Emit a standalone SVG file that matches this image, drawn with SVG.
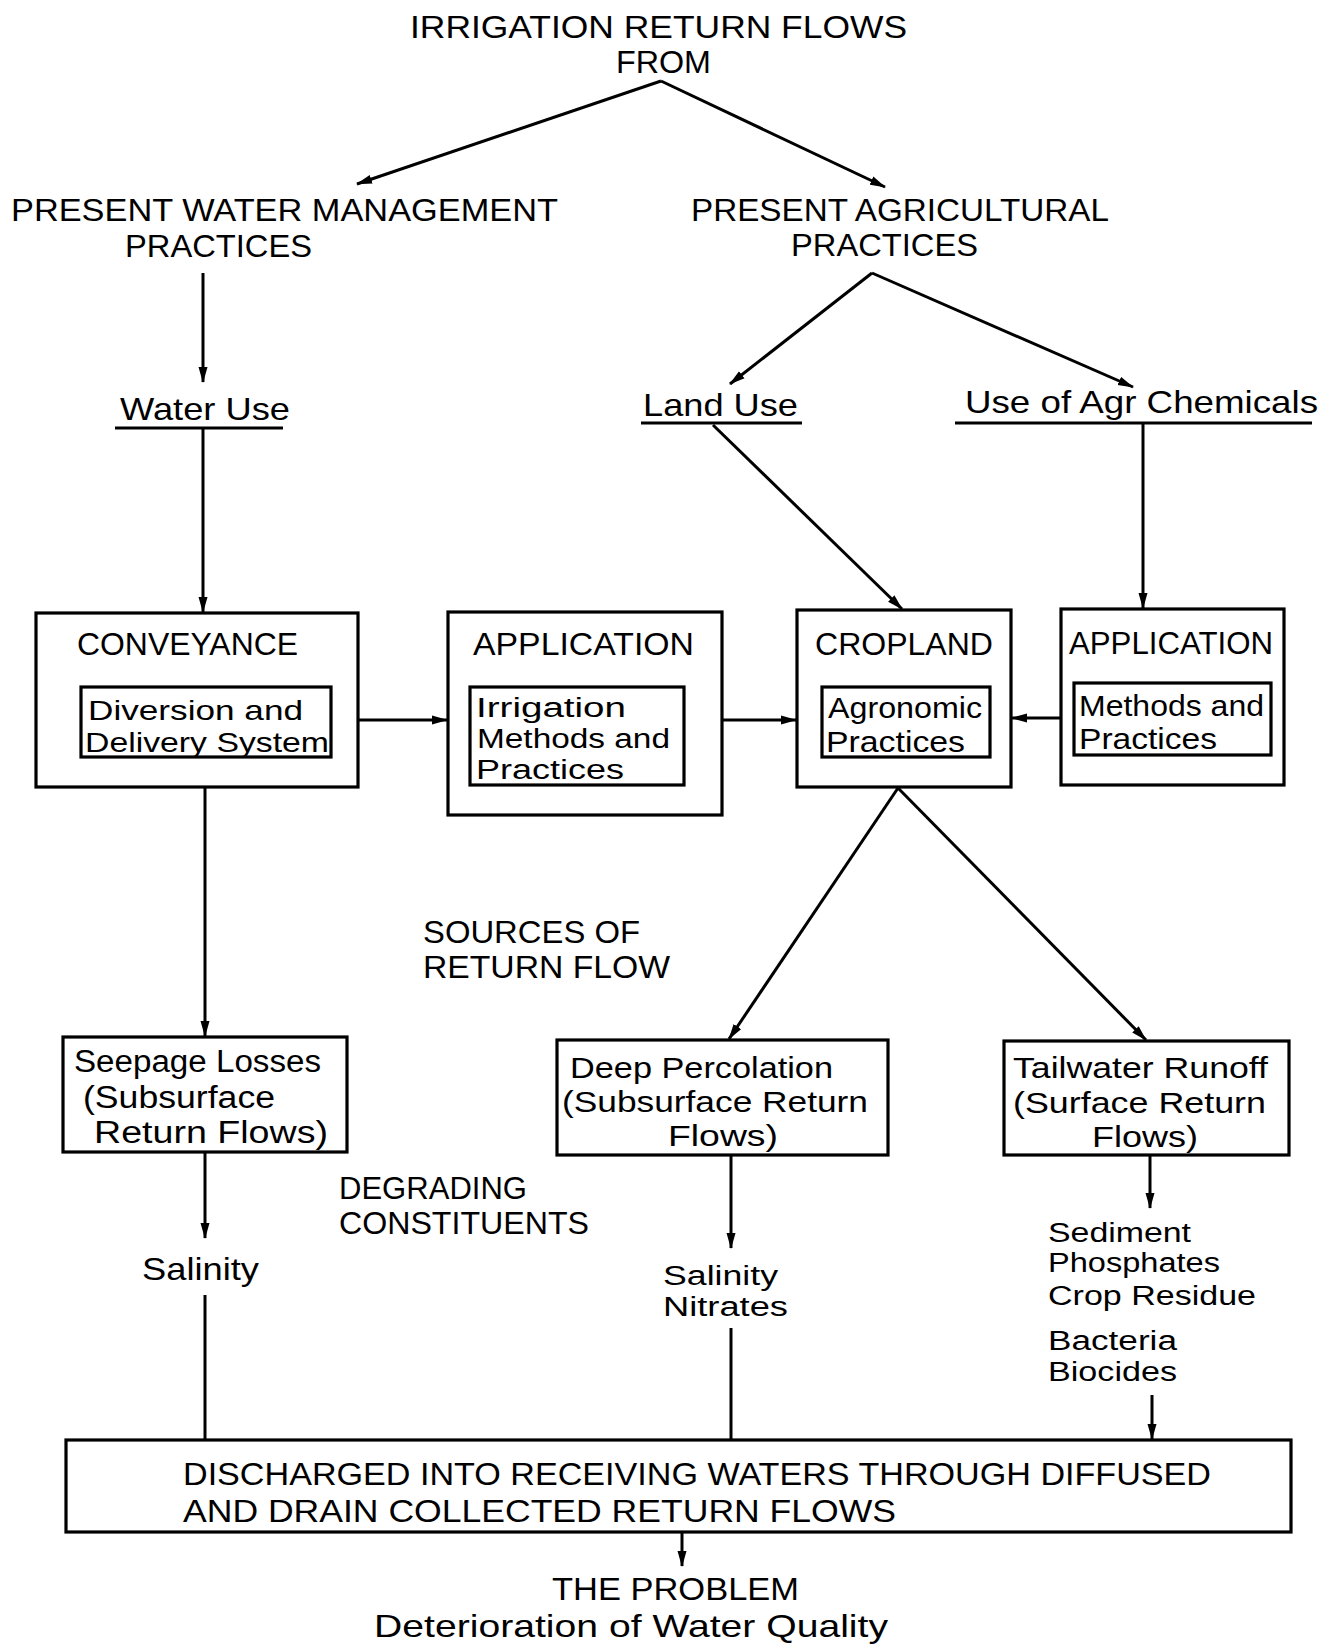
<svg xmlns="http://www.w3.org/2000/svg" width="1332" height="1645" viewBox="0 0 1332 1645">
<defs>
<marker id="ah" markerUnits="userSpaceOnUse" markerWidth="16" markerHeight="10" viewBox="0 0 16 10" refX="15" refY="5" orient="auto">
<path d="M0,0.5 L16,5 L0,9.5 z" fill="#000"/>
</marker>
<style>
text{font-family:"Liberation Sans",Arial,sans-serif;fill:#000;font-size:31px;}
.h{font-size:32px;}
.h2{font-size:31px;}
.f32{font-size:32px;}
.f30{font-size:30px;}
.f29{font-size:29px;}
.f28{font-size:28px;}
.f27{font-size:27px;}
.box{fill:none;stroke:#000;stroke-width:3.2;}
.ul{stroke:#000;stroke-width:2.8;}
#connectors line{stroke:#000;stroke-width:3;fill:none;}
.a{marker-end:url(#ah);}
</style>
</defs>
<rect width="1332" height="1645" fill="#fff"/>

<g id="title">
<text x="410" y="38" textLength="497" lengthAdjust="spacingAndGlyphs">IRRIGATION RETURN FLOWS</text>
<text x="616" y="73" textLength="95" lengthAdjust="spacingAndGlyphs">FROM</text>
</g>

<g id="water-management">
<text class="h" x="11" y="221" textLength="547" lengthAdjust="spacingAndGlyphs">PRESENT WATER MANAGEMENT</text>
<text class="h" x="125" y="257" textLength="187" lengthAdjust="spacingAndGlyphs">PRACTICES</text>
</g>

<g id="agricultural">
<text class="h2" x="691" y="221" textLength="418" lengthAdjust="spacingAndGlyphs">PRESENT AGRICULTURAL</text>
<text class="h2" x="791" y="256" textLength="187" lengthAdjust="spacingAndGlyphs">PRACTICES</text>
</g>

<g id="water-use">
<text class="f32" x="120" y="420" textLength="170" lengthAdjust="spacingAndGlyphs">Water Use</text>
<line class="ul" x1="115" y1="428" x2="283" y2="428"/>
</g>

<g id="land-use">
<text class="f32" x="643" y="416" textLength="155" lengthAdjust="spacingAndGlyphs">Land Use</text>
<line class="ul" x1="641" y1="423" x2="802" y2="423"/>
</g>

<g id="agr-chemicals">
<text class="f32" x="965" y="413" textLength="353" lengthAdjust="spacingAndGlyphs">Use of Agr Chemicals</text>
<line class="ul" x1="955" y1="423" x2="1312" y2="423"/>
</g>

<g id="conveyance">
<rect class="box" x="36" y="613" width="322" height="174"/>
<text x="77" y="655" textLength="221" lengthAdjust="spacingAndGlyphs">CONVEYANCE</text>
<rect class="box" x="81" y="687" width="250" height="70"/>
<text class="f28" x="88" y="720" textLength="215" lengthAdjust="spacingAndGlyphs">Diversion and</text>
<text class="f28" x="85" y="752" textLength="244" lengthAdjust="spacingAndGlyphs">Delivery System</text>
</g>

<g id="application-irrigation">
<rect class="box" x="448" y="612" width="274" height="203"/>
<text x="473" y="655" textLength="221" lengthAdjust="spacingAndGlyphs">APPLICATION</text>
<rect class="box" x="470" y="687" width="214" height="98"/>
<text class="f27" x="476" y="717" textLength="150" lengthAdjust="spacingAndGlyphs">Irrigation</text>
<text class="f27" x="477" y="748" textLength="193" lengthAdjust="spacingAndGlyphs">Methods and</text>
<text class="f27" x="476" y="779" textLength="148" lengthAdjust="spacingAndGlyphs">Practices</text>
</g>

<g id="cropland">
<rect class="box" x="797" y="610" width="214" height="177"/>
<text x="815" y="655" textLength="178" lengthAdjust="spacingAndGlyphs">CROPLAND</text>
<rect class="box" x="822" y="687" width="168" height="70"/>
<text class="f30" x="828" y="718" textLength="154" lengthAdjust="spacingAndGlyphs">Agronomic</text>
<text class="f30" x="826" y="752" textLength="139" lengthAdjust="spacingAndGlyphs">Practices</text>
</g>

<g id="application-chemicals">
<rect class="box" x="1061" y="609" width="223" height="176"/>
<text x="1069" y="654" textLength="204" lengthAdjust="spacingAndGlyphs">APPLICATION</text>
<rect class="box" x="1074" y="683" width="197" height="72"/>
<text class="f29" x="1079" y="716" textLength="185" lengthAdjust="spacingAndGlyphs">Methods and</text>
<text class="f29" x="1079" y="749" textLength="138" lengthAdjust="spacingAndGlyphs">Practices</text>
</g>

<g id="sources-label">
<text x="423" y="943" textLength="217" lengthAdjust="spacingAndGlyphs">SOURCES OF</text>
<text x="423" y="978" textLength="247" lengthAdjust="spacingAndGlyphs">RETURN FLOW</text>
</g>

<g id="seepage">
<rect class="box" x="63" y="1037" width="284" height="115"/>
<text x="74" y="1072" textLength="247" lengthAdjust="spacingAndGlyphs">Seepage Losses</text>
<text x="83" y="1108" textLength="192" lengthAdjust="spacingAndGlyphs">(Subsurface</text>
<text x="94" y="1143" textLength="234" lengthAdjust="spacingAndGlyphs">Return Flows)</text>
</g>

<g id="deep-percolation">
<rect class="box" x="557" y="1040" width="331" height="115"/>
<text class="f30" x="570" y="1078" textLength="263" lengthAdjust="spacingAndGlyphs">Deep Percolation</text>
<text class="f30" x="562" y="1112" textLength="306" lengthAdjust="spacingAndGlyphs">(Subsurface Return</text>
<text class="f30" x="668" y="1146" textLength="110" lengthAdjust="spacingAndGlyphs">Flows)</text>
</g>

<g id="tailwater">
<rect class="box" x="1004" y="1041" width="285" height="114"/>
<text class="f30" x="1013" y="1078" textLength="255" lengthAdjust="spacingAndGlyphs">Tailwater Runoff</text>
<text class="f30" x="1013" y="1113" textLength="253" lengthAdjust="spacingAndGlyphs">(Surface Return</text>
<text class="f30" x="1092" y="1147" textLength="106" lengthAdjust="spacingAndGlyphs">Flows)</text>
</g>

<g id="degrading-label">
<text x="339" y="1199" textLength="188" lengthAdjust="spacingAndGlyphs">DEGRADING</text>
<text x="339" y="1234" textLength="250" lengthAdjust="spacingAndGlyphs">CONSTITUENTS</text>
</g>

<g id="salinity">
<text class="f32" x="142" y="1280" textLength="117" lengthAdjust="spacingAndGlyphs">Salinity</text>
</g>

<g id="salinity-nitrates">
<text class="f27" x="663" y="1285" textLength="115" lengthAdjust="spacingAndGlyphs">Salinity</text>
<text class="f27" x="663" y="1316" textLength="125" lengthAdjust="spacingAndGlyphs">Nitrates</text>
</g>

<g id="surface-constituents">
<text class="f27" x="1048" y="1242" textLength="143" lengthAdjust="spacingAndGlyphs">Sediment</text>
<text class="f27" x="1048" y="1272" textLength="172" lengthAdjust="spacingAndGlyphs">Phosphates</text>
<text class="f27" x="1048" y="1305" textLength="208" lengthAdjust="spacingAndGlyphs">Crop Residue</text>
<text class="f27" x="1048" y="1350" textLength="129" lengthAdjust="spacingAndGlyphs">Bacteria</text>
<text class="f27" x="1048" y="1381" textLength="129" lengthAdjust="spacingAndGlyphs">Biocides</text>
</g>

<g id="discharged">
<rect class="box" x="66" y="1440" width="1225" height="92"/>
<text class="f32" x="183" y="1485" textLength="1028" lengthAdjust="spacingAndGlyphs">DISCHARGED INTO RECEIVING WATERS THROUGH DIFFUSED</text>
<text class="f32" x="183" y="1522" textLength="713" lengthAdjust="spacingAndGlyphs">AND DRAIN COLLECTED RETURN FLOWS</text>
</g>

<g id="problem">
<text class="f32" x="552" y="1600" textLength="247" lengthAdjust="spacingAndGlyphs">THE PROBLEM</text>
<text class="f32" x="374" y="1637" textLength="514" lengthAdjust="spacingAndGlyphs">Deterioration of Water Quality</text>
</g>

<g id="connectors">
<line class="a" x1="661" y1="81" x2="357" y2="184"/>
<line class="a" x1="661" y1="81" x2="885" y2="187"/>
<line class="a" x1="203" y1="273" x2="203" y2="382"/>
<line class="a" x1="872" y1="273" x2="730" y2="384"/>
<line class="a" x1="872" y1="273" x2="1133" y2="387"/>
<line class="a" x1="203" y1="428" x2="203" y2="612"/>
<line class="a" x1="713" y1="425" x2="902" y2="609"/>
<line class="a" x1="1143" y1="423" x2="1143" y2="608"/>
<line class="a" x1="358" y1="720" x2="447" y2="720"/>
<line class="a" x1="722" y1="720" x2="796" y2="720"/>
<line class="a" x1="1061" y1="718" x2="1012" y2="718"/>
<line class="a" x1="205" y1="787" x2="205" y2="1036"/>
<line class="a" x1="898" y1="788" x2="729" y2="1039"/>
<line class="a" x1="898" y1="788" x2="1146" y2="1040"/>
<line class="a" x1="205" y1="1152" x2="205" y2="1238"/>
<line x1="205" y1="1295" x2="205" y2="1439"/>
<line class="a" x1="731" y1="1155" x2="731" y2="1248"/>
<line x1="731" y1="1328" x2="731" y2="1439"/>
<line class="a" x1="1150" y1="1155" x2="1150" y2="1208"/>
<line class="a" x1="1152" y1="1395" x2="1152" y2="1439"/>
<line class="a" x1="682" y1="1532" x2="682" y2="1566"/>
</g>
</svg>
